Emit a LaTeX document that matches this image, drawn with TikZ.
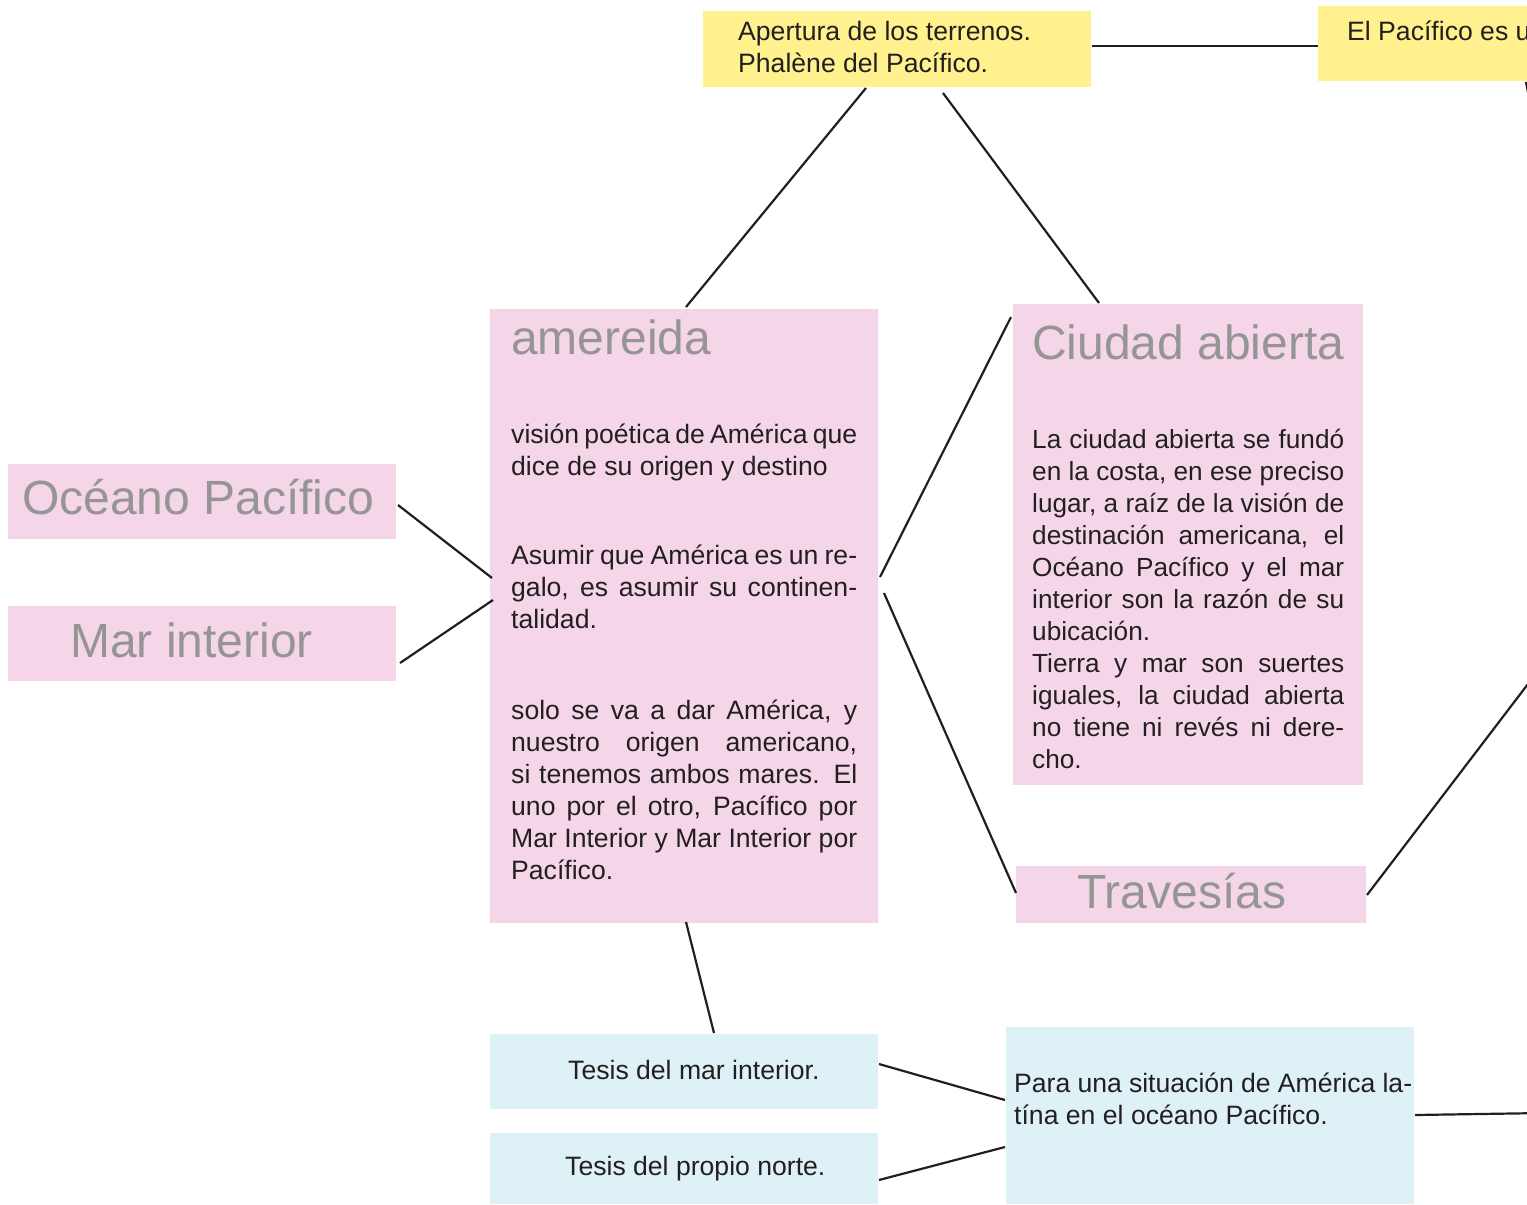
\documentclass[tikz,border=0pt]{standalone}
\usepackage{fontspec}
\setmainfont{Liberation Sans}
\usetikzlibrary{calc}
\definecolor{yel}{HTML}{FFF18D}
\definecolor{pnk}{HTML}{F4D6E8}
\definecolor{blu}{HTML}{DEF1F6}
\definecolor{ttl}{HTML}{959595}
\definecolor{ink}{HTML}{231F20}
\newcommand\jl[1]{\makebox[\linewidth][s]{#1}\\}
\begin{document}
\begin{tikzpicture}[x=1pt,y=-1pt,
  box/.style={draw=none,inner sep=0pt,outer sep=0pt,anchor=north west,rectangle},
  ybox/.style={box,fill=yel},
  pbox/.style={box,fill=pnk},
  bbox/.style={box,fill=blu},
  title/.style={anchor=base west,inner sep=0pt,font=\fontsize{48}{56}\selectfont,text=ttl},
  body/.style={anchor=base west,inner sep=0pt,font=\fontsize{26.6}{32}\selectfont,text=ink},
  link/.style={draw=ink,line width=2.2pt}]
\useasboundingbox (0,0) rectangle (1527,1205);
\clip (0,0) rectangle (1527,1205);
\fill[white] (0,0) rectangle (1527,1205);

% boxes
\node[ybox,minimum width=388pt,minimum height=76pt] (top) at (703,11) {};
\node[ybox,minimum width=320pt,minimum height=75pt] (rgt) at (1318,6) {};
\node[pbox,minimum width=388pt,minimum height=614pt] (amer) at (490,309) {};
\node[pbox,minimum width=350pt,minimum height=481pt] (ciud) at (1013,304) {};
\node[pbox,minimum width=388pt,minimum height=75pt] (ocea) at (8,464) {};
\node[pbox,minimum width=388pt,minimum height=75pt] (mar) at (8,606) {};
\node[pbox,minimum width=350pt,minimum height=57pt] (trav) at (1016,866) {};
\node[bbox,minimum width=388pt,minimum height=75pt] (tmar) at (490,1034) {};
\node[bbox,minimum width=388pt,minimum height=71pt] (tnor) at (490,1133) {};
\node[bbox,minimum width=408pt,minimum height=177pt] (para) at (1006,1027) {};

% free ends off the right edge
\coordinate (rgtout) at (1530,102);
\coordinate (travout) at (1547,659);
\coordinate (paraout) at (1545,1113);

% titles
\node[title] (amerT) at (511,354) {amereida};
\node[title] (ciudT) at (1032,359) {Ciudad abierta};
\node[title] (oceaT) at (22,514) {Océano Pacífico};
\node[title] (marT) at (70,657) {Mar interior};
\node[title] (travT) at (1077,908) {Travesías};

% body texts
\node[body] (topT) at (738,40) {\parbox[t]{340pt}{Apertura de los terrenos.\\Phalène del Pacífico.}};
\node[body] (rgtT) at (1347,40) {El Pacífico es un};
\node[body] (amerP1) at (511,443) {\parbox[t]{346pt}{\jl{visión poética de América que}dice de su origen y destino}};
\node[body] (amerP2) at (511,564) {\parbox[t]{346pt}{\jl{Asumir que América es un re-}\jl{galo, es asumir su continen-}talidad.}};
\node[body] (amerP3) at (511,719) {\parbox[t]{346pt}{\jl{solo se va a dar América, y}\jl{nuestro origen americano,}\jl{si tenemos ambos mares. El}\jl{uno por el otro, Pacífico por}\jl{Mar Interior y Mar Interior por}Pacífico.}};
\node[body,font=\fontsize{26.2}{32}\selectfont] (ciudP) at (1032,448) {\parbox[t]{312pt}{\jl{La ciudad abierta se fundó}\jl{en la costa, en ese preciso}\jl{lugar, a raíz de la visión de}\jl{destinación americana, el}\jl{Océano Pacífico y el mar}\jl{interior son la razón de su}ubicación.\\\jl{Tierra y mar son suertes}\jl{iguales, la ciudad abierta}\jl{no tiene ni revés ni dere-}cho.}};
\node[body] (tmarT) at (568,1079) {Tesis del mar interior.};
\node[body] (tnorT) at (565,1175) {Tesis del propio norte.};
\node[body] (paraT) at (1014,1092) {\parbox[t]{398pt}{\jl{Para una situación de América la-}tína en el océano Pacífico.}};

% connectors
\draw[link] ([shift={(163,1)}]top.south west) -- ([shift={(196,-2)}]amer.north west);
\draw[link] ([shift={(240,6)}]top.south west) -- ([shift={(86,-1)}]ciud.north west);
\draw[link] ([shift={(1,35)}]top.north east) -- ([shift={(0,40)}]rgt.north west);
\draw[link] ([shift={(208,1)}]rgt.south west) -- (rgtout);
\draw[link] ([shift={(2,41)}]ocea.north east) -- ([shift={(2,269)}]amer.north west);
\draw[link] ([shift={(4,57)}]mar.north east) -- ([shift={(3,291)}]amer.north west);
\draw[link] ([shift={(2,268)}]amer.north east) -- ([shift={(-2,13)}]ciud.north west);
\draw[link] ([shift={(6,284)}]amer.north east) -- ([shift={(0,27)}]trav.north west);
\draw[link] ([shift={(1,29)}]trav.north east) -- (travout);
\draw[link] ([shift={(196,-1)}]amer.south west) -- ([shift={(224,-1)}]tmar.north west);
\draw[link] ([shift={(1,30)}]tmar.north east) -- ([shift={(-1,73)}]para.north west);
\draw[link] ([shift={(1,47)}]tnor.north east) -- ([shift={(-1,120)}]para.north west);
\draw[link] ([shift={(1,88)}]para.north east) -- (paraout);
\end{tikzpicture}
\end{document}
